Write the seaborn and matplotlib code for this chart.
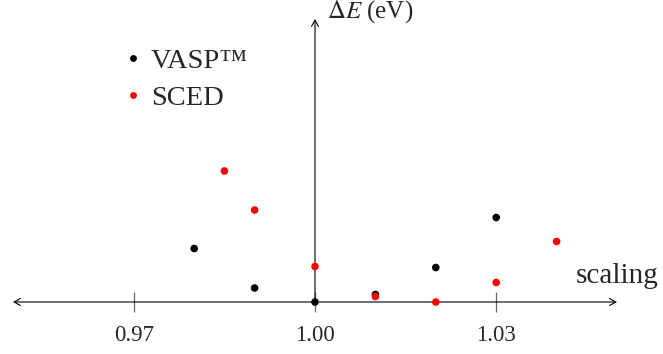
import matplotlib
matplotlib.use("Agg")
import matplotlib.pyplot as plt
import seaborn as sns
import pandas as pd

# data
vasp_x = [0.98, 0.99, 1.00, 1.01, 1.02, 1.03]
vasp_y = [0.107, 0.028, 0.000, 0.015, 0.069, 0.169]
sced_x = [0.985, 0.99, 1.00, 1.01, 1.02, 1.03, 1.04]
sced_y = [0.262, 0.184, 0.071, 0.011, 0.000, 0.039, 0.121]
series_names = ["VASP\u2122", "SCED"]
xticks = [0.97, 1.00, 1.03]
xtick_labels = ["0.97", "1.00", "1.03"]

df = pd.DataFrame({
    "scaling": vasp_x + sced_x,
    "dE": vasp_y + sced_y,
    "method": [series_names[0]] * len(vasp_x) + [series_names[1]] * len(sced_x),
})

sns.set_theme(style="white")
plt.rcParams["font.family"] = ["Liberation Serif", "DejaVu Serif"]
plt.rcParams["mathtext.fontset"] = "stix"

fig = plt.figure(figsize=(6.63, 3.54), dpi=100)
ax = fig.add_axes([0, 0, 1, 1])
ax.set_facecolor("white")

sns.scatterplot(data=df, x="scaling", y="dE", hue="method",
                palette={series_names[0]: "#000000", series_names[1]: "#ff0000"},
                s=30, linewidth=0, ax=ax, zorder=5)

ax.set_xlim(1.0 - 315 / 6040, 1.0 + 348 / 6040)
ax.set_ylim(-0.104, 0.604)

for sp in ["top", "right", "left"]:
    ax.spines[sp].set_visible(False)
ax.spines["bottom"].set_position(("data", 0))
ax.spines["bottom"].set_visible(False)

ax.set_xticks(xticks)
ax.set_xticklabels(xtick_labels, fontsize=16.5)
ax.set_yticks([])
ax.tick_params(axis="x", direction="inout", length=13.7, width=0.9,
               color="#666666", pad=10, bottom=True)
ax.set_xlabel("")
ax.set_ylabel("")

# axis arrows
ax.annotate("", xy=(1.05, 0), xytext=(0.95, 0),
            arrowprops=dict(arrowstyle="<->,head_length=0.45,head_width=0.25",
                            lw=0.8, color="black", shrinkA=0, shrinkB=0,
                            mutation_scale=10), zorder=3)
ax.annotate("", xy=(1.0, 0.566), xytext=(1.0, 0),
            arrowprops=dict(arrowstyle="->,head_length=0.45,head_width=0.25",
                            lw=0.8, color="black", shrinkA=0, shrinkB=0,
                            mutation_scale=10), zorder=3)

ax.text(1.0432, 0.038, "scaling", fontsize=21, ha="left", va="baseline")
ax.text(1.002, 0.568, r"$\Delta E$ (eV)", fontsize=18, ha="left", va="baseline")

leg = ax.legend(loc="upper left", bbox_to_anchor=(119 / 663, 1 - 48 / 354),
                frameon=False, fontsize=20.5, handlelength=1.0,
                handletextpad=0.12, labelspacing=0.39, borderpad=0,
                borderaxespad=0, markerscale=0.9)

fig.savefig("out.png", dpi=100)
